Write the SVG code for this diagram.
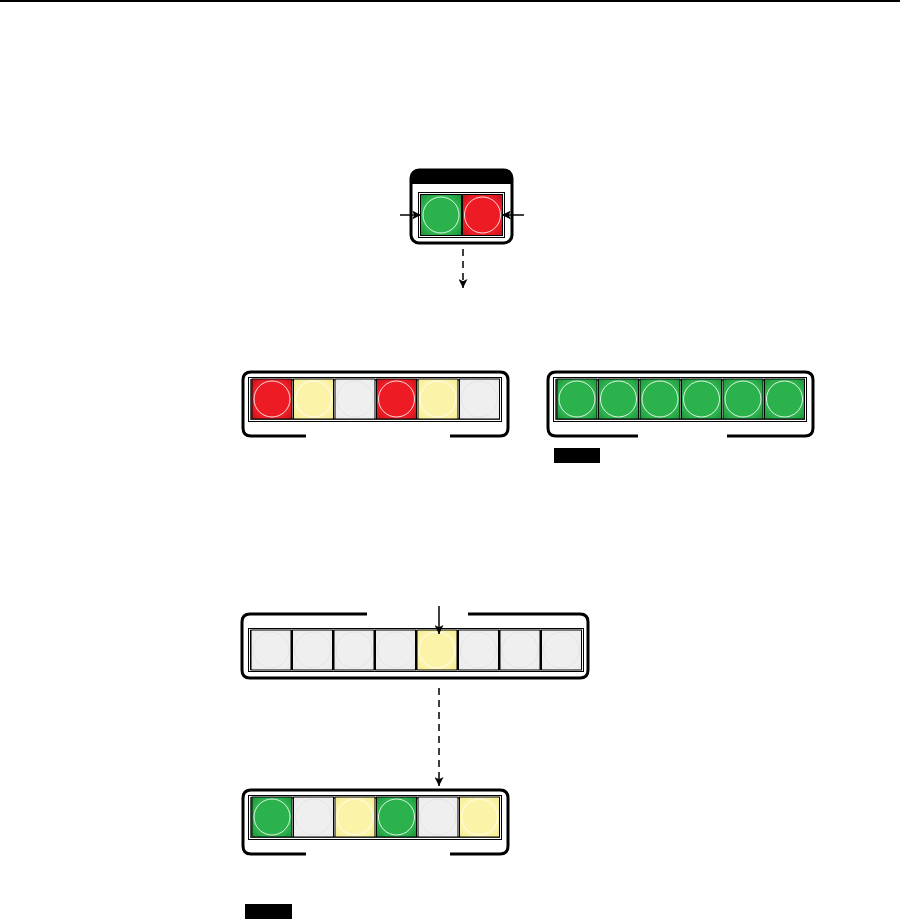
<svg xmlns="http://www.w3.org/2000/svg" width="900" height="919" viewBox="0 0 900 919">
<style>
.frame{fill:none;stroke:#000;stroke-width:3;stroke-linecap:butt}
.in1{fill:#fff;stroke:#000;stroke-width:1}
.in2{fill:none;stroke:#555;stroke-width:2}
.btn{stroke:#000;stroke-width:1}
.ring{fill:none;stroke:#fff;stroke-width:1;opacity:.85}
.ringg{fill:none;stroke:#e4e4e4;stroke-width:1}
.arr{stroke:#000;stroke-width:1.5;fill:none}
.dash{stroke:#000;stroke-width:1.5;fill:none;stroke-dasharray:7 5}
</style>
<defs>
<marker id="ah" viewBox="0 0 10 10" refX="10" refY="5" markerWidth="10" markerHeight="9" markerUnits="userSpaceOnUse" orient="auto">
<path d="M0,0 L10,5 L0,10 L2.5,5 Z" fill="#000"/>
</marker>
<radialGradient id="gG" cx="50%" cy="50%" r="72%"><stop offset="70%" stop-color="#2bb24c"/><stop offset="100%" stop-color="#1f8a3a"/></radialGradient>
<radialGradient id="gR" cx="50%" cy="50%" r="72%"><stop offset="70%" stop-color="#ed1c24"/><stop offset="100%" stop-color="#b8141a"/></radialGradient>
<radialGradient id="gY" cx="50%" cy="50%" r="72%"><stop offset="70%" stop-color="#fbf4a8"/><stop offset="100%" stop-color="#f3e98a"/></radialGradient>
<radialGradient id="gW" cx="50%" cy="50%" r="72%"><stop offset="70%" stop-color="#efefef"/><stop offset="100%" stop-color="#e9e9e9"/></radialGradient>
</defs>

<rect x="0" y="0" width="900" height="2" fill="#000"/>

<!-- top device -->
<g id="device-top">
<path d="M411,243 L411,178 Q411,170 419,170 L504,170 Q512,170 512,178 L512,184 L411,184 Z" fill="#000"/>
<rect x="411" y="170" width="101" height="73" rx="8" class="frame"/>
<rect x="418.5" y="192.5" width="86" height="45" class="in1"/>
<rect x="420" y="194" width="83" height="42" fill="#000"/>
<rect x="421" y="195" width="40" height="40" fill="url(#gG)"/>
<circle cx="441" cy="215" r="18" class="ring"/>
<rect x="463" y="195" width="39" height="40" fill="url(#gR)"/>
<circle cx="482.5" cy="215" r="18" class="ring"/>
</g>

<!-- left panel 6 -->
<g id="panel-left">
<path class="frame" d="M306,436 L251,436 Q243,436 243,428 L243,380 Q243,372 251,372 L500,372 Q508,372 508,380 L508,428 Q508,436 500,436 L450,436"/>
<rect x="248.5" y="377.5" width="253" height="44" class="in1"/>
<rect x="251" y="380" width="248" height="39" class="in2"/>
<rect x="252" y="379" width="40" height="40" class="btn" fill="url(#gR)"/><circle cx="272" cy="399" r="18" class="ring"/>
<rect x="293.5" y="379" width="40" height="40" class="btn" fill="url(#gY)"/><circle cx="313.5" cy="399" r="18" class="ring"/>
<rect x="335" y="379" width="40" height="40" class="btn" fill="url(#gW)"/><circle cx="355" cy="399" r="18" class="ringg"/>
<rect x="376.5" y="379" width="40" height="40" class="btn" fill="url(#gR)"/><circle cx="396.5" cy="399" r="18" class="ring"/>
<rect x="418" y="379" width="40" height="40" class="btn" fill="url(#gY)"/><circle cx="438" cy="399" r="18" class="ring"/>
<rect x="459.5" y="379" width="40" height="40" class="btn" fill="url(#gW)"/><circle cx="479.5" cy="399" r="18" class="ringg"/>
</g>

<!-- right panel 6 green -->
<g id="panel-right">
<path class="frame" d="M638,436 L556,436 Q548,436 548,428 L548,380 Q548,372 556,372 L805,372 Q813,372 813,380 L813,428 Q813,436 805,436 L727,436"/>
<rect x="553.5" y="377.5" width="253" height="44" class="in1"/>
<rect x="556" y="380" width="248" height="39" class="in2"/>
<rect x="557" y="379" width="40" height="40" class="btn" fill="url(#gG)"/><circle cx="577" cy="399" r="18" class="ring"/>
<rect x="598.5" y="379" width="40" height="40" class="btn" fill="url(#gG)"/><circle cx="618.5" cy="399" r="18" class="ring"/>
<rect x="640" y="379" width="40" height="40" class="btn" fill="url(#gG)"/><circle cx="660" cy="399" r="18" class="ring"/>
<rect x="681.5" y="379" width="40" height="40" class="btn" fill="url(#gG)"/><circle cx="701.5" cy="399" r="18" class="ring"/>
<rect x="723" y="379" width="40" height="40" class="btn" fill="url(#gG)"/><circle cx="743" cy="399" r="18" class="ring"/>
<rect x="764.5" y="379" width="40" height="40" class="btn" fill="url(#gG)"/><circle cx="784.5" cy="399" r="18" class="ring"/>
</g>
<rect id="tag-1" x="554" y="448" width="46" height="15" fill="#000"/>

<!-- 8-button panel -->
<g id="panel-eight">
<path class="frame" d="M367,614 L250,614 Q242,614 242,622 L242,670 Q242,678 250,678 L580,678 Q588,678 588,670 L588,622 Q588,614 580,614 L468,614"/>
<rect x="248.5" y="628.5" width="335" height="43" class="in1"/>
<rect x="250" y="630" width="332" height="40" fill="#000"/>
<rect x="251" y="630" width="40" height="40" class="btn" fill="url(#gW)"/><circle cx="271" cy="650" r="18" class="ringg"/>
<rect x="292.5" y="630" width="40" height="40" class="btn" fill="url(#gW)"/><circle cx="312.5" cy="650" r="18" class="ringg"/>
<rect x="334" y="630" width="40" height="40" class="btn" fill="url(#gW)"/><circle cx="354" cy="650" r="18" class="ringg"/>
<rect x="375.5" y="630" width="40" height="40" class="btn" fill="url(#gW)"/><circle cx="395.5" cy="650" r="18" class="ringg"/>
<rect x="417" y="630" width="40" height="40" class="btn" fill="url(#gY)"/><circle cx="437" cy="650" r="18" class="ring"/>
<rect x="458.5" y="630" width="40" height="40" class="btn" fill="url(#gW)"/><circle cx="478.5" cy="650" r="18" class="ringg"/>
<rect x="500" y="630" width="40" height="40" class="btn" fill="url(#gW)"/><circle cx="520" cy="650" r="18" class="ringg"/>
<rect x="541.5" y="630" width="40" height="40" class="btn" fill="url(#gW)"/><circle cx="561.5" cy="650" r="18" class="ringg"/>
</g>

<!-- bottom panel 6 -->
<g id="panel-bottom">
<path class="frame" d="M306,854 L251,854 Q243,854 243,846 L243,798 Q243,790 251,790 L500,790 Q508,790 508,798 L508,846 Q508,854 500,854 L450,854"/>
<rect x="248.5" y="795.5" width="253" height="44" class="in1"/>
<rect x="251" y="798" width="248" height="39" class="in2"/>
<rect x="252" y="797" width="40" height="40" class="btn" fill="url(#gG)"/><circle cx="272" cy="817" r="18" class="ring"/>
<rect x="293.5" y="797" width="40" height="40" class="btn" fill="url(#gW)"/><circle cx="313.5" cy="817" r="18" class="ringg"/>
<rect x="335" y="797" width="40" height="40" class="btn" fill="url(#gY)"/><circle cx="355" cy="817" r="18" class="ring"/>
<rect x="376.5" y="797" width="40" height="40" class="btn" fill="url(#gG)"/><circle cx="396.5" cy="817" r="18" class="ring"/>
<rect x="418" y="797" width="40" height="40" class="btn" fill="url(#gW)"/><circle cx="438" cy="817" r="18" class="ringg"/>
<rect x="459.5" y="797" width="40" height="40" class="btn" fill="url(#gY)"/><circle cx="479.5" cy="817" r="18" class="ring"/>
</g>
<rect id="tag-2" x="245" y="904" width="47" height="15" fill="#000"/>

<!-- connectors -->
<g id="connectors">
<line class="arr" x1="400" y1="215" x2="421" y2="215" marker-end="url(#ah)"/>
<line class="arr" x1="524" y1="215" x2="502" y2="215" marker-end="url(#ah)"/>
<line class="dash" x1="463" y1="249" x2="463" y2="288" marker-end="url(#ah)" stroke-dasharray="1.5 6 8 6 20"/>
<line class="arr" x1="439" y1="606" x2="439" y2="634" marker-end="url(#ah)"/>
<line class="dash" x1="439" y1="688" x2="439" y2="786" marker-end="url(#ah)"/>
</g>
</svg>
